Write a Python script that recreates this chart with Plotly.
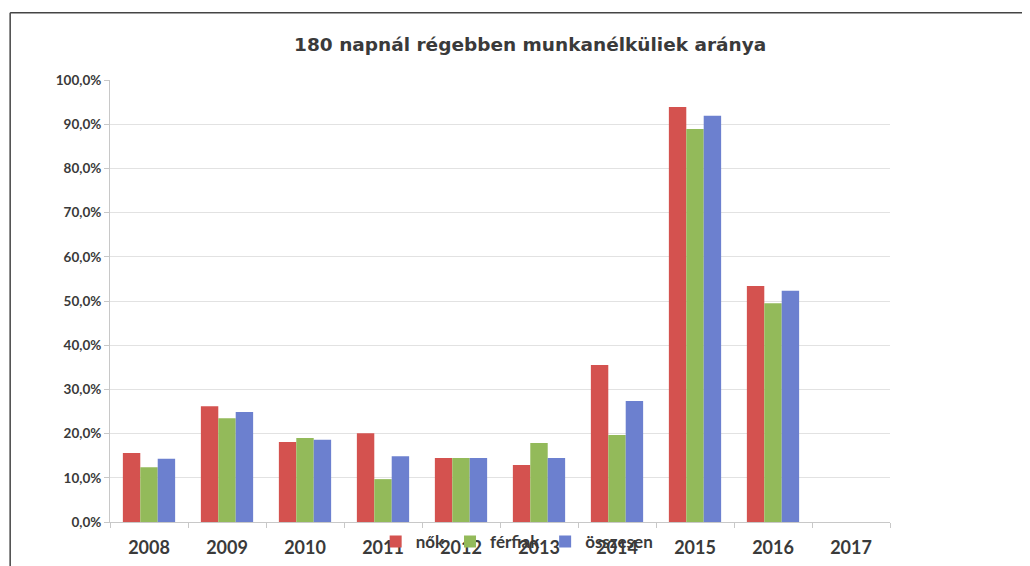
import plotly.graph_objects as go

years = ["2008", "2009", "2010", "2011", "2012", "2013", "2014", "2015", "2016", "2017"]
nok = [0.156, 0.262, 0.181, 0.201, 0.145, 0.129, 0.355, 0.939, 0.534, None]
ferfiak = [0.124, 0.235, 0.190, 0.097, 0.145, 0.179, 0.197, 0.889, 0.495, None]
osszesen = [0.143, 0.249, 0.186, 0.149, 0.145, 0.145, 0.274, 0.919, 0.523, None]

series = [("<b>nők</b>", nok, "#D4524F"), ("<b>férfiak</b>", ferfiak, "#93BA5A"), ("<b>összesen</b>", osszesen, "#6C80CF")]

fig = go.Figure()
for name, vals, col in series:
    fig.add_trace(go.Bar(x=years, y=vals, name=name, marker_color=col, marker_line_width=0))

font = "Lato, 'Open Sans', sans-serif"
fig.update_layout(
    width=1030, height=566,
    margin=dict(l=102, r=148, t=72, b=52),
    paper_bgcolor="white", plot_bgcolor="white",
    separators=", ",
    barmode="group", bargap=0.33, bargroupgap=0,
    title=dict(text="<b>180 napnál régebben munkanélküliek aránya</b>", x=0.507, xanchor="center",
               y=0.935, yanchor="middle", font=dict(family="'DejaVu Sans', sans-serif", size=18.5, color="#3a3a3a")),
    font=dict(family=font, color="#333333"),
    legend=dict(orientation="h", x=0.522, xanchor="center", y=-0.045, yanchor="middle",
                bgcolor="rgba(0,0,0,0)", font=dict(size=17, color="#3a3a3a"),
                itemwidth=30, traceorder="normal"),
    xaxis=dict(showgrid=False, showline=True, linecolor="#c8c8c8", ticks="outside", ticklen=5,
               tickcolor="#c8c8c8", tickson="boundaries", ticklabelstandoff=9,
               tickfont=dict(size=18, color="#3a3a3a", family=font),
               tickprefix="<b>", ticksuffix="</b>"),
    yaxis=dict(range=[0, 1.0], dtick=0.1, tickformat=".1%", showgrid=True, gridcolor="#e2e2e2",
               showline=True, linecolor="#c8c8c8", ticks="outside", ticklen=5, tickcolor="#c8c8c8",
               tickfont=dict(size=13.5, color="#3a3a3a", family=font),
               tickprefix="<b>", ticksuffix="</b>", zeroline=False),
    shapes=[
        dict(type="line", xref="paper", yref="paper", x0=-0.128, x1=1.19, y0=1.152, y1=1.152,
             line=dict(color="#444444", width=1.5)),
        dict(type="line", xref="paper", yref="paper", x0=-0.128, x1=-0.128, y0=1.152, y1=-0.13,
             line=dict(color="#444444", width=1.5)),
    ],
)

fig.write_html("out.html")
